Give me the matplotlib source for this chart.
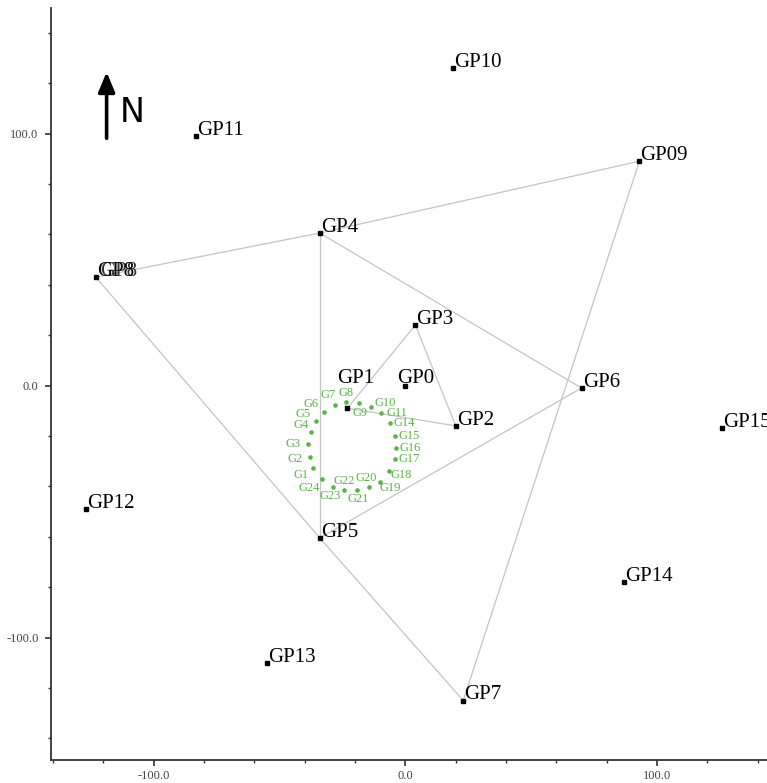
import numpy as np
import matplotlib
matplotlib.use("Agg")
import matplotlib.pyplot as plt

# control points (GP) coordinates
gp_names = ["GP0", "GP1", "GP2", "GP3", "GP4", "GP5", "GP6", "GP7", "GP8",
            "GP09", "GP10", "GP11", "GP12", "GP13", "GP14", "GP15"]
gp_x = [0, -23, 20, 4, -34, -34, 70, 23, -123, 93, 19, -83, -127, -55, 87, 126]
gp_y = [0, -9, -16, 24, 60.5, -60.5, -1, -125, 43, 89, 126, 99, -49, -110, -78, -17]

# network lines between control points
links = [("GP8", "GP4"), ("GP4", "GP09"), ("GP09", "GP7"), ("GP8", "GP5"),
         ("GP5", "GP7"), ("GP4", "GP5"), ("GP4", "GP6"), ("GP6", "GP5"),
         ("GP1", "GP3"), ("GP3", "GP2"), ("GP2", "GP1")]

# ring of points G1..G24 (G12, G13 absent)
g_names = ["G1", "G2", "G3", "G4", "G5", "G6", "G7", "G8", "G9", "G10", "G11",
           "G14", "G15", "G16", "G17", "G18", "G19", "G20", "G21", "G22", "G23", "G24"]
g_x = [-36.7, -38.0, -38.6, -37.6, -35.7, -32.3, -28.0, -23.4, -18.5, -13.8, -9.5,
       -6.2, -4.2, -3.8, -4.2, -6.6, -10.1, -14.4, -19.2, -24.3, -28.9, -33.1]
g_y = [-32.9, -28.5, -23.2, -18.3, -14.1, -10.4, -7.7, -6.4, -6.8, -8.7, -11.0,
       -14.8, -19.9, -24.7, -29.3, -33.8, -38.2, -40.4, -41.5, -41.5, -40.2, -37.1]

# label offsets (points) for the ring labels
g_off = {"G1": (-8.4, -5), "G2": (-10.8, -1.2), "G3": (-10.8, 0), "G4": (-6.7, 4.8),
         "G5": (-8.9, 4.8), "G6": (-9.1, 5.3), "G7": (-4.8, 7.2), "G8": (0, 6.5),
         "G9": (0.7, -7.2), "G10": (10.3, 2.9), "G11": (10.8, 0), "G14": (10.5, 0),
         "G15": (10.5, 0), "G16": (10.5, 0), "G17": (10.5, 0), "G18": (9.1, -3.1),
         "G19": (7.2, -4.3), "G20": (-1.9, 6.5), "G21": (0.7, -6.5), "G22": (0, 6.5),
         "G23": (-1.9, -6.7), "G24": (-8.9, -6.7)}

serif = ["Liberation Serif", "DejaVu Serif"]
green = "#5cb24a"

fig = plt.figure(figsize=(7.67, 7.83), dpi=100)
ax = fig.add_axes([51/767, 23/783, 1 - 51/767, 752/783])

pos = dict(zip(gp_names, zip(gp_x, gp_y)))
for a, b in links:
    ax.plot([pos[a][0], pos[b][0]], [pos[a][1], pos[b][1]],
            color="#c4c4c4", lw=0.9, zorder=1)

ax.plot(gp_x, gp_y, "s", color="black", ms=2.4, zorder=3)
for n, x, y in zip(gp_names, gp_x, gp_y):
    if n == "GP1":
        ax.text(-27, 1, n, fontsize=15, family=serif, ha="left", va="baseline")
    elif n == "GP0":
        ax.text(-3.4, 1, n, fontsize=15, family=serif, ha="left", va="baseline")
    else:
        ax.annotate(n, (x, y), xytext=(0.8, 0.8), textcoords="offset points",
                    fontsize=15, family=serif, ha="left", va="baseline")
        if n == "GP8":
            # doubled label in the original
            ax.annotate(n, (x, y), xytext=(2.8, 0.8), textcoords="offset points",
                        fontsize=15, family=serif, ha="left", va="baseline", alpha=0.8)

ax.plot(g_x, g_y, "o", color=green, ms=2.3, zorder=3)
for n, x, y in zip(g_names, g_x, g_y):
    ax.annotate(n, (x, y), xytext=g_off[n], textcoords="offset points",
                fontsize=9, family=serif, color=green, ha="center", va="center")

# north arrow
ax.annotate("", xy=(-118.7, 125.5), xytext=(-118.7, 97),
            arrowprops=dict(arrowstyle="-|>,head_length=1.2,head_width=0.5",
                            color="black", lw=2.6))
ax.text(-113.5, 108.5, "N", fontsize=24, family="DejaVu Sans", ha="left", va="center")

ax.set_xlim(-140.8, 143.7)
ax.set_ylim(-148.6, 149.8)
ax.set_xticks([-100, 0, 100])
ax.set_yticks([-100, 0, 100])
ax.set_xticks(np.arange(-140, 141, 20), minor=True)
ax.set_yticks(np.arange(-140, 141, 20), minor=True)
ax.set_xticklabels(["-100.0", "0.0", "100.0"])
ax.set_yticklabels(["-100.0", "0.0", "100.0"])
for lab in ax.get_xticklabels() + ax.get_yticklabels():
    lab.set_family(serif)
    lab.set_fontsize(9)
    lab.set_color("#444444")
ax.tick_params(which="major", length=4, width=1.2, color="#333333", pad=3)
ax.tick_params(axis="y", which="major", pad=5)
ax.tick_params(which="minor", length=2.5, width=1.0, color="#333333")
for s in ["top", "right"]:
    ax.spines[s].set_visible(False)
for s in ["left", "bottom"]:
    ax.spines[s].set_color("#333333")
    ax.spines[s].set_linewidth(1.3)

fig.savefig("out.png", dpi=100)
